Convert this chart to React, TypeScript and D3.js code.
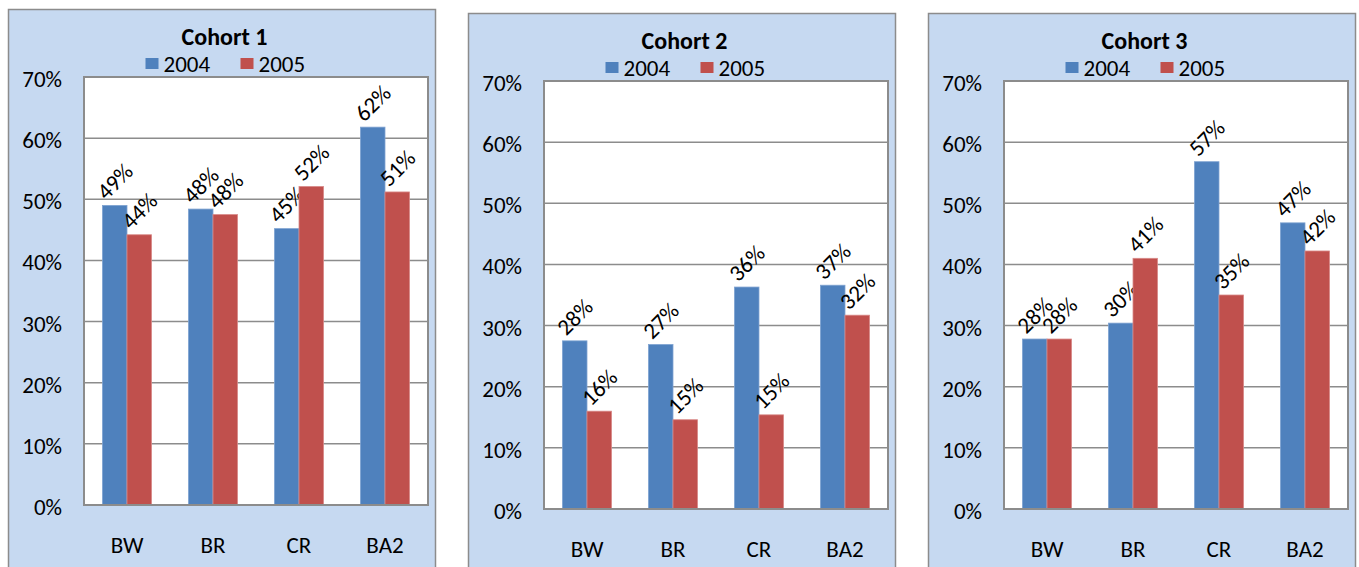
import React from 'react';
import * as d3 from 'd3';

const categories = ['BW', 'BR', 'CR', 'BA2'];
const seriesNames = ['2004', '2005'];
const yTicks = [0, 0.1, 0.2, 0.3, 0.4, 0.5, 0.6, 0.7];

const cohortTitles = ['Cohort 1', 'Cohort 2', 'Cohort 3'];
const cohort1_2004 = [0.49, 0.484, 0.452, 0.618];
const cohort1_2005 = [0.442, 0.475, 0.521, 0.512];
const cohort2_2004 = [0.275, 0.269, 0.363, 0.366];
const cohort2_2005 = [0.16, 0.146, 0.154, 0.317];
const cohort3_2004 = [0.278, 0.304, 0.568, 0.468];
const cohort3_2005 = [0.278, 0.41, 0.35, 0.422];

const colors = ['#4f81bd', '#c0504d'];
const font = 'Carlito, Lato, "Open Sans", sans-serif';

const panels = [
  { left: 8, top: 9, values: [cohort1_2004, cohort1_2005] },
  { left: 468, top: 13, values: [cohort2_2004, cohort2_2005] },
  { left: 928, top: 13, values: [cohort3_2004, cohort3_2005] },
];

const panelW = 427;
const plotL = 76;
const plotR = 420;
const plotT = 68;
const plotH = 428;
const fmt = d3.format('.0%');

const Panel = ({ left, top, title, values }) => {
  const w = plotR - plotL;
  const y = d3.scaleLinear().domain([0, 0.7]).range([plotT + plotH, plotT]);
  const x0 = d3.scaleBand().domain(categories).range([plotL, plotR]);
  const x1 = d3.scaleBand().domain(seriesNames).range([0, x0.bandwidth()]).paddingOuter(0.75);
  const cx = panelW / 2 + 3;

  return (
    <g transform={`translate(${left},${top})`}>
      <rect x={0.5} y={0.5} width={panelW} height={600} fill="#c6d9f1" stroke="#8c8c8c" strokeWidth={1.5} />
      <text x={cx} y={27} textAnchor="middle" dominantBaseline="central"
        style={{ fontFamily: font, fontWeight: 'bold', fontSize: 24 }}>{title}</text>
      {seriesNames.map((s, i) => (
        <g key={s} transform={`translate(${cx - 79 + i * 95},0)`}>
          <rect x={0} y={49} width={13} height={11} fill={colors[i]} />
          <text x={18} y={55} dominantBaseline="central" style={{ fontFamily: font, fontSize: 23 }}>{s}</text>
        </g>
      ))}
      <rect x={plotL} y={plotT} width={w} height={plotH} fill="#fff" />
      {yTicks.map(t => (
        <g key={t}>
          <line x1={plotL} x2={plotR} y1={y(t)} y2={y(t)} stroke="#8c8c8c" strokeWidth={1.5} />
          <text x={54} y={y(t) + 2} textAnchor="end" dominantBaseline="central"
            style={{ fontFamily: font, fontSize: 23 }}>{fmt(t)}</text>
        </g>
      ))}
      {categories.map((c, ci) => (
        <g key={c}>
          {seriesNames.map((s, si) => {
            const v = values[si][ci];
            const bx = x0(c) + x1(s);
            const bw = x1.bandwidth();
            return (
              <g key={s}>
                <rect x={bx} y={y(v)} width={bw} height={y(0) - y(v)} fill={colors[si]}
                  stroke={si === 0 ? '#7fa3d1' : '#d98b89'} strokeWidth={0.8} />
                <text transform={`translate(${bx + bw / 2},${y(v) - 24}) rotate(-45)`}
                  textAnchor="middle" dominantBaseline="central"
                  style={{ fontFamily: font, fontSize: 23 }}>{fmt(v)}</text>
              </g>
            );
          })}
          <text x={x0(c) + x0.bandwidth() / 2} y={plotT + plotH + 40} textAnchor="middle"
            dominantBaseline="central" style={{ fontFamily: font, fontSize: 23 }}>{c}</text>
        </g>
      ))}
      <rect x={plotL} y={plotT} width={w} height={plotH} fill="none" stroke="#8c8c8c" strokeWidth={2} />
    </g>
  );
};

export default function App() {
  return (
    <svg width={1359} height={567} style={{ position: 'absolute', left: 0, top: 0, background: '#fff' }}>
      {panels.map((p, i) => (
        <Panel key={i} left={p.left} top={p.top} title={cohortTitles[i]} values={p.values} />
      ))}
    </svg>
  );
}
